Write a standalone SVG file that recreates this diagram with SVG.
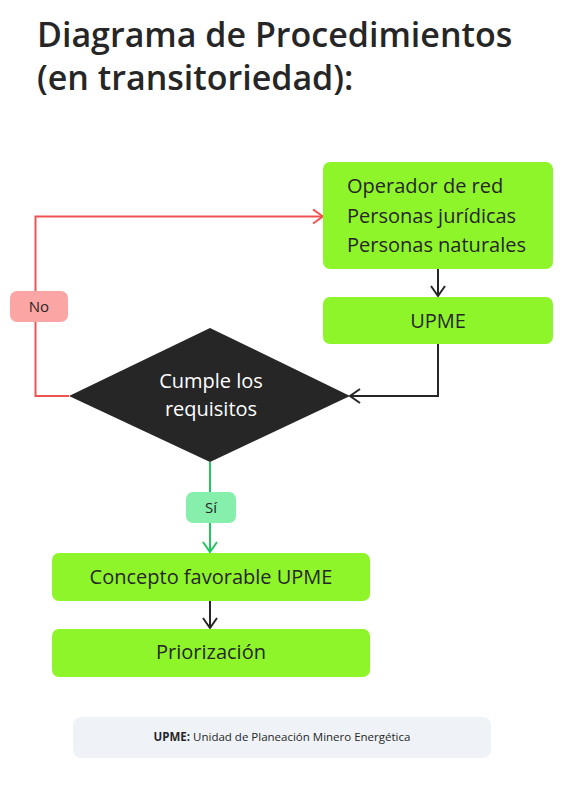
<svg xmlns="http://www.w3.org/2000/svg" width="571" height="787" viewBox="0 0 571 787">
<style>
.t{font-family:"Open Sans","Noto Sans",sans-serif;fill:#262626}
.title{font-size:34px;font-weight:600}
.box{fill:#8ff52b}
.lbl{font-size:20px}
.ln{fill:none;stroke-width:2}
</style>
<defs>
<marker id="ak" viewBox="0 0 12 16" refX="11" refY="8" markerWidth="12" markerHeight="16" markerUnits="userSpaceOnUse" orient="auto"><path d="M1,1 L11,8 L1,15" fill="none" stroke="#262626" stroke-width="2"/></marker>
<marker id="ar" viewBox="0 0 12 16" refX="11" refY="8" markerWidth="12" markerHeight="16" markerUnits="userSpaceOnUse" orient="auto"><path d="M1,1 L11,8 L1,15" fill="none" stroke="#f05252" stroke-width="2"/></marker>
<marker id="ag" viewBox="0 0 12 16" refX="11" refY="8" markerWidth="12" markerHeight="16" markerUnits="userSpaceOnUse" orient="auto"><path d="M1,1 L11,8 L1,15" fill="none" stroke="#22c55e" stroke-width="2"/></marker>
</defs>
<rect width="571" height="787" fill="#ffffff"/>
<g id="title">
<text class="t title" x="37" y="47">Diagrama de Procedimientos</text>
<text class="t title" x="37" y="90">(en transitoriedad):</text>
</g>
<g id="connectors">
<path class="ln" d="M438,269 V296" stroke="#262626" marker-end="url(#ak)"/>
<path class="ln" d="M438,344 V396 H350" stroke="#262626" marker-end="url(#ak)"/>
<path class="ln" d="M69,396 H35.5 V216.5 H323" stroke="#f05252" marker-end="url(#ar)"/>
<path class="ln" d="M210,462 V552" stroke="#22c55e" marker-end="url(#ag)"/>
<path class="ln" d="M210,601 V628" stroke="#262626" marker-end="url(#ak)"/>
</g>
<g id="label-no">
<rect x="10" y="291" width="58" height="31" rx="7" fill="#fca5a5"/>
<text class="t" x="39" y="312" font-size="15" text-anchor="middle">No</text>
</g>
<g id="label-si">
<rect x="186" y="492" width="50" height="31" rx="7" fill="#86efac"/>
<text class="t" x="211" y="513" font-size="15" text-anchor="middle">Sí</text>
</g>
<g id="node-actores">
<rect class="box" x="323" y="162" width="230" height="107" rx="7"/>
<text class="t lbl" x="347" y="193">Operador de red</text>
<text class="t lbl" x="347" y="223">Personas jurídicas</text>
<text class="t lbl" x="347" y="252">Personas naturales</text>
</g>
<g id="node-upme">
<rect class="box" x="323" y="297" width="230" height="47" rx="7"/>
<text class="t lbl" x="438" y="328" text-anchor="middle">UPME</text>
</g>
<g id="node-decision">
<path d="M210,328 L350,396 L210,462 L69,396 Z" fill="#262626"/>
<text class="t lbl" x="211" y="388" text-anchor="middle" style="fill:#ffffff">Cumple los</text>
<text class="t lbl" x="211" y="416" text-anchor="middle" style="fill:#ffffff">requisitos</text>
</g>
<g id="node-concepto">
<rect class="box" x="52" y="553" width="318" height="48" rx="7"/>
<text class="t lbl" x="211" y="584" text-anchor="middle">Concepto favorable UPME</text>
</g>
<g id="node-priorizacion">
<rect class="box" x="52" y="629" width="318" height="48" rx="7"/>
<text class="t lbl" x="211" y="659" text-anchor="middle">Priorización</text>
</g>
<g id="footer">
<rect x="73" y="717" width="418" height="41" rx="8" fill="#eff3f8"/>
<text class="t" x="282" y="741" font-size="11.5" text-anchor="middle"><tspan font-weight="700">UPME:</tspan> Unidad de Planeación Minero Energética</text>
</g>
</svg>
